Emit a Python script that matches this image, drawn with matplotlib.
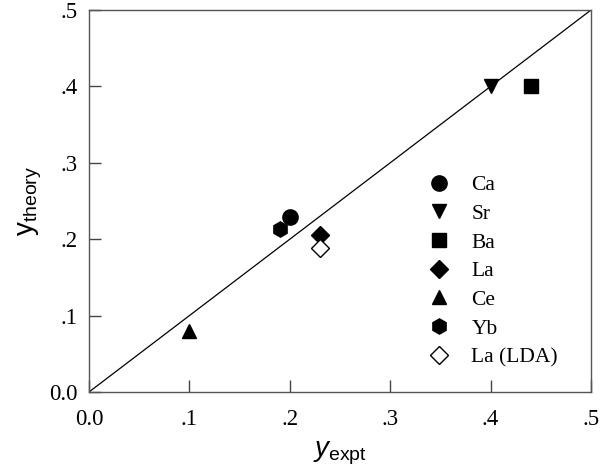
import matplotlib
matplotlib.use("Agg")
import matplotlib.pyplot as plt

plt.rcParams["mathtext.fontset"] = "custom"
plt.rcParams["mathtext.rm"] = "Liberation Sans"
plt.rcParams["mathtext.it"] = "Liberation Sans:italic"

labels = ["Ca", "Sr", "Ba", "La", "Ce", "Yb", "La (LDA)"]
y_expt = [0.20, 0.40, 0.44, 0.23, 0.10, 0.19, 0.23]
y_theory = [0.229, 0.40, 0.40, 0.205, 0.08, 0.213, 0.188]
markers = ["o", "v", "s", "D", "^", "h", "D"]
sizes = [11, 10.5, 9.5, 9, 9.5, 11, 9]
filled = [True, True, True, True, True, True, False]
ticks = [0.0, 0.1, 0.2, 0.3, 0.4, 0.5]
tick_labels = ["0.0", ".1", ".2", ".3", ".4", ".5"]

fig = plt.figure(figsize=(6.11, 4.70), dpi=100)
ax = fig.add_axes([89/611, 1-392/470, (591-89)/611, (392-10)/470])

ax.plot([0, 0.5], [0, 0.5], color="black", lw=0.9, zorder=1)
for lab, x, y, m, s, f in zip(labels, y_expt, y_theory, markers, sizes, filled):
    ax.plot([x], [y], linestyle="none", marker=m, markersize=s,
            markerfacecolor="black" if f else "white", markeredgecolor="black",
            markeredgewidth=1.0, label=lab, zorder=3)

ax.set_xlim(0, 0.5)
ax.set_ylim(0, 0.5)
ax.set_xticks(ticks)
ax.set_yticks(ticks)
ax.set_xticklabels(tick_labels, family="Liberation Serif", fontsize=16.5)
ax.set_yticklabels(tick_labels, family="Liberation Serif", fontsize=16.5)
ax.tick_params(direction="in", length=8.5, width=1.0, color="#444444")
ax.tick_params(axis="x", pad=12)
ax.tick_params(axis="y", pad=8)
for sp in ax.spines.values():
    sp.set_color("#555555")
    sp.set_linewidth(1.0)

ax.set_xlabel(r"$y_{\mathrm{expt}}$", fontsize=20, labelpad=7)
ax.set_ylabel(r"$\mathrm{y}_{\mathrm{theory}}$", fontsize=20, labelpad=4)

leg = ax.legend(loc="upper left", bbox_to_anchor=(0.659, 0.59), frameon=False,
                prop={"family": "Liberation Serif", "size": 15.5},
                handlelength=1.0, handletextpad=1.0, labelspacing=0.4,
                borderaxespad=0)

fig.savefig("out.png", dpi=100)
